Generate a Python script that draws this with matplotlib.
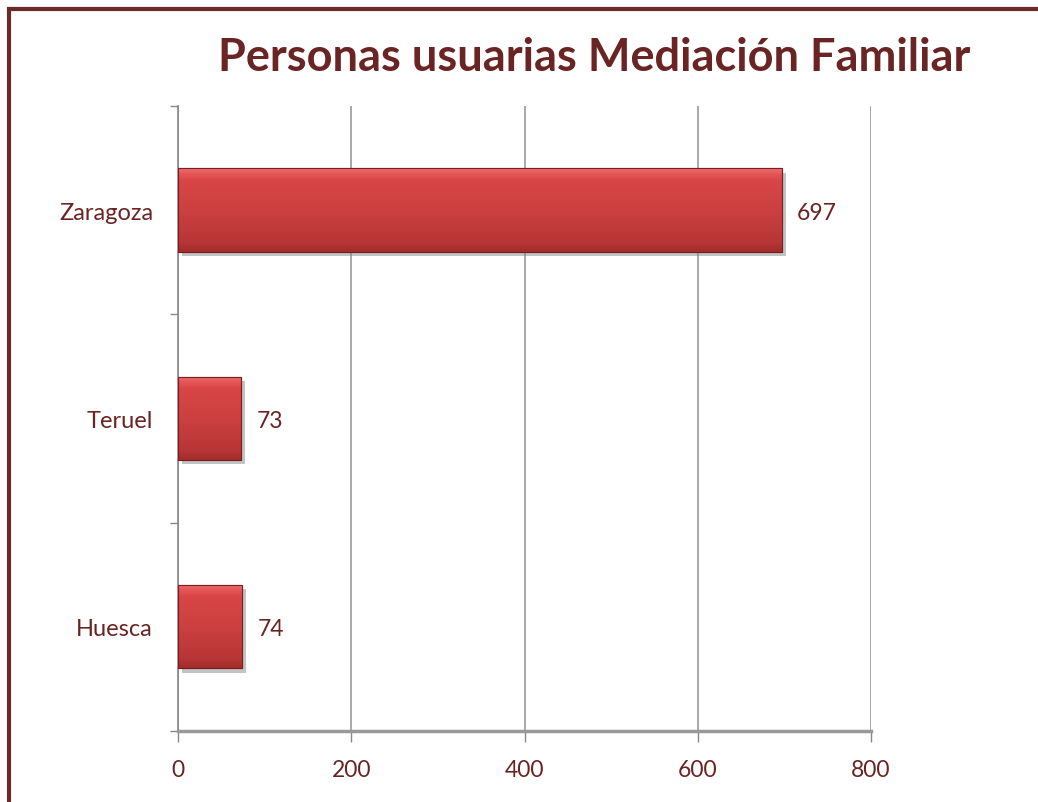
import numpy as np
import matplotlib
matplotlib.use("Agg")
import matplotlib.pyplot as plt
import matplotlib.patheffects as pe
from matplotlib.colors import LinearSegmentedColormap
from matplotlib.patches import Rectangle

provinces = ["Huesca", "Teruel", "Zaragoza"]
users = [74, 73, 697]
x_ticks = [0, 200, 400, 600, 800]

dark_red = "#6B2424"
plt.rcParams["font.family"] = ["Lato", "DejaVu Sans"]

fig = plt.figure(figsize=(10.38, 8.03), dpi=100)
ax = fig.add_axes([0.1715, 0.0885, 0.6677, 0.7783])

# frame around the chart (cut off at right and bottom)
fig.patches.append(Rectangle((0.0085, -0.05), 1.1, 1.037, transform=fig.transFigure,
                             fill=False, edgecolor="#6B2A2A", linewidth=3, zorder=0))

ypos = np.arange(len(provinces))
bars = ax.barh(ypos, users, height=0.4, color="#CC3C3C", edgecolor="#7A2020",
               linewidth=0.8, zorder=3)

# light-to-dark gradient inside each bar
grad_cmap = LinearSegmentedColormap.from_list(
    "bev", [(0, "#A02C2C"), (0.12, "#B83636"), (0.5, "#CC4040"),
            (0.85, "#D84646"), (0.93, "#E45656"), (1, "#EE7070")])
grad = np.linspace(0, 1, 256).reshape(-1, 1)
for b in bars:
    b.set_path_effects([pe.SimplePatchShadow(offset=(3, -3), shadow_rgbFace="#888888", alpha=0.5),
                        pe.Normal()])
    x0, y0, w, h = b.get_x(), b.get_y(), b.get_width(), b.get_height()
    im = ax.imshow(grad, extent=[x0, x0 + w, y0, y0 + h], origin="lower",
                   cmap=grad_cmap, aspect="auto", zorder=3.5)
    im.set_clip_path(b)
    ax.add_patch(Rectangle((x0, y0), w, h, fill=False, edgecolor="#7A2020",
                           linewidth=0.8, zorder=4))

for y, v in zip(ypos, users):
    ax.annotate(str(v), (v, y), xytext=(11, -1.5), textcoords="offset points",
                va="center", ha="left", fontsize=16.5, color=dark_red)

ax.set_xlim(0, 800)
ax.set_ylim(-0.5, 2.5)
ax.set_xticks(x_ticks)
ax.set_yticks(ypos)
ax.set_yticklabels(provinces)
ax.set_yticks([-0.5, 0.5, 1.5, 2.5], minor=True)
ax.tick_params(axis="y", which="major", length=0, pad=18, labelsize=17, labelcolor=dark_red)
ax.tick_params(axis="y", which="minor", length=6, color="#888888", width=1)
ax.tick_params(axis="x", length=8, color="#888888", width=1, pad=12,
               labelsize=16.5, labelcolor=dark_red)

ax.grid(axis="x", color="#999999", linewidth=1.2, zorder=0)
ax.set_axisbelow(True)
for s in ["top", "right"]:
    ax.spines[s].set_visible(False)
ax.spines["left"].set_color("#888888")
ax.spines["left"].set_linewidth(1.2)
ax.spines["bottom"].set_color("#999999")
ax.spines["bottom"].set_linewidth(2.5)

fig.text(0.572, 0.928, "Personas usuarias Mediación Familiar", ha="center", va="center",
         fontsize=32.5, fontweight="bold", color=dark_red)

fig.savefig("out.png", dpi=100)
